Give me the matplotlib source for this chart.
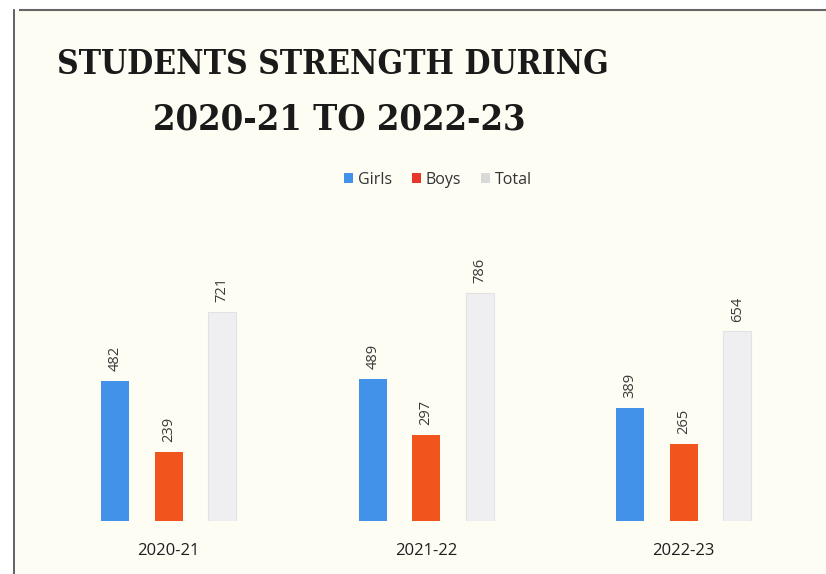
import matplotlib
matplotlib.use("Agg")
import matplotlib.pyplot as plt
from matplotlib.patches import Patch, Rectangle
from matplotlib.lines import Line2D
from matplotlib import font_manager as fm
import numpy as np

years = ["2020-21", "2021-22", "2022-23"]
girls = [482, 489, 389]
boys = [239, 297, 265]
total = [721, 786, 654]
series_names = ["Girls", "Boys", "Total"]

c_girls = "#4392ea"
c_boys = "#f2541d"
c_total = "#efeff1"

W, H = 826, 574
fig = plt.figure(figsize=(W / 100, H / 100), dpi=100, facecolor="white")

# cream paper background inside frame
fig.patches.append(Rectangle((15 / W, 0), 1 - 15 / W, 1 - 10 / H, transform=fig.transFigure,
                             facecolor="#fdfdf4", edgecolor="none", zorder=-10))
fig.add_artist(Line2D([14 / W, 14 / W], [0, 1 - 10 / H], transform=fig.transFigure,
                      color="#555555", lw=1.3))
fig.add_artist(Line2D([20 / W, 1], [1 - 10 / H, 1 - 10 / H], transform=fig.transFigure,
                      color="#666666", lw=1.5))

ax_left = 40 / W
ax_w = 772.5 / W
ax_bottom = (H - 521) / H
ymax = 1100
ax_h = (0.29 * ymax) / H
ax = fig.add_axes([ax_left, ax_bottom, ax_w, ax_h])
ax.set_facecolor("none")

x = np.arange(len(years))
off = 0.208
bw = 0.109
b1 = ax.bar(x - off, girls, bw, color=c_girls, label="Girls")
b2 = ax.bar(x, boys, bw, color=c_boys, label="Boys")
b3 = ax.bar(x + off, total, bw, color=c_total, edgecolor="#e2e2e4", linewidth=0.8, label="Total")

for bars in (b1, b2, b3):
    for r in bars:
        ax.annotate(f"{int(r.get_height())}", (r.get_x() + r.get_width() / 2, r.get_height()),
                    xytext=(0, 7), textcoords="offset points", rotation=90,
                    ha="center", va="bottom", fontsize=10.5, color="#3a3a3a",
                    family="Open Sans")

ax.set_xlim(-0.5, 2.5)
ax.set_ylim(0, ymax)
ax.set_xticks(x)
ax.set_xticklabels(years, fontsize=12, color="#1e1e1e", family="Open Sans")
ax.tick_params(axis="x", length=0, pad=16)
ax.set_yticks([])
for s in ax.spines.values():
    s.set_visible(False)

handles = [Patch(facecolor=c_girls), Patch(facecolor="#e8352a"), Patch(facecolor="#d9d9d9")]
fig.legend(handles, series_names, loc="center", bbox_to_anchor=(438 / W, 1 - 180 / H),
           ncol=3, frameon=False, handlelength=0.6, handleheight=0.6, handletextpad=0.3,
           columnspacing=1.2, prop={"family": "Open Sans", "size": 11.5}, labelcolor="#333333")

# title font: prefer condensed serif bold
fp = fm.FontProperties(family="DejaVu Serif", weight="bold", stretch="condensed")
path = fm.findfont(fp)
if "Condensed" in path:
    s1, s2 = 24, 26
    stretch = "condensed"
else:
    s1, s2 = 21.5, 24
    stretch = "normal"

fig.text(333 / W, 1 - 64 / H, "STUDENTS STRENGTH DURING", ha="center", va="center",
         fontsize=s1, fontweight="bold", family="DejaVu Serif", fontstretch=stretch,
         color="#1a1a1a")
fig.text(339 / W, 1 - 119 / H, "2020-21 TO 2022-23", ha="center", va="center",
         fontsize=s2, fontweight="bold", family="DejaVu Serif", fontstretch=stretch,
         color="#1a1a1a")

fig.savefig("out.png", dpi=100, facecolor=fig.get_facecolor())
